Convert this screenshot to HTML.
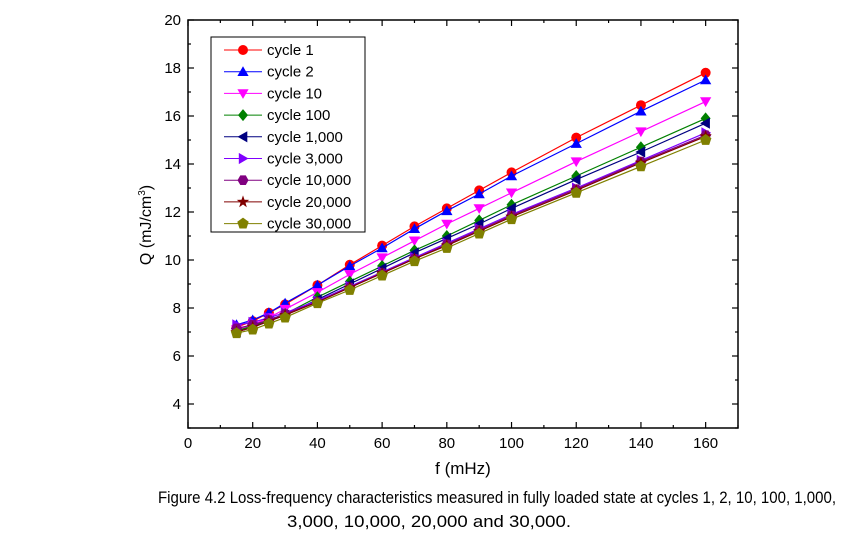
<!DOCTYPE html>
<html><head><meta charset="utf-8"><style>
body{margin:0;background:#fff;width:859px;height:550px;overflow:hidden}
svg{font-family:"Liberation Sans",Arial,sans-serif}
</style></head><body>
<svg id="c" width="859" height="550"></svg>
<script>
const xVals=[15,20,25,30,40,50,60,70,80,90,100,120,140,160];
const seriesNames=["cycle 1","cycle 2","cycle 10","cycle 100","cycle 1,000","cycle 3,000","cycle 10,000","cycle 20,000","cycle 30,000"];
const s1=[7.2,7.45,7.8,8.15,8.95,9.8,10.6,11.4,12.15,12.9,13.65,15.1,16.45,17.8];
const s2=[7.3,7.5,7.8,8.2,8.95,9.75,10.5,11.3,12.05,12.75,13.5,14.85,16.2,17.5];
const s10=[7.1,7.3,7.6,7.95,8.65,9.4,10.1,10.8,11.5,12.15,12.8,14.1,15.35,16.6];
const s100=[7.05,7.25,7.5,7.75,8.45,9.1,9.75,10.4,11.0,11.65,12.3,13.5,14.7,15.9];
const s1000=[7.0,7.2,7.45,7.7,8.35,9.0,9.65,10.3,10.9,11.5,12.15,13.35,14.5,15.7];
const s3000=[7.3,7.4,7.6,7.8,8.3,8.9,9.5,10.1,10.7,11.3,11.9,13.0,14.15,15.3];
const s10000=[7.15,7.3,7.5,7.75,8.25,8.85,9.45,10.05,10.65,11.25,11.85,12.95,14.1,15.2];
const s20000=[7.0,7.2,7.45,7.7,8.25,8.85,9.45,10.05,10.6,11.2,11.8,12.9,14.05,15.15];
const s30000=[6.95,7.1,7.35,7.6,8.2,8.75,9.35,9.95,10.5,11.1,11.7,12.8,13.9,15.0];
const xTicks=[0,20,40,60,80,100,120,140,160];
const yTicks=[4,6,8,10,12,14,16,18,20];

const allSeries=[s1,s2,s10,s100,s1000,s3000,s10000,s20000,s30000];
const colors=["#ff0000","#0000ff","#ff00ff","#008000","#000080","#8000ff","#800080","#800000","#808000"];
const shapes=["circle","up","down","diamond","left","right","hex","star","pent"];
const NS="http://www.w3.org/2000/svg";
const svg=document.getElementById('c');
const L=188,R=738,T=20,B=428,xmin=0,xmax=170,ymin=3,ymax=20;
const X=v=>L+(v-xmin)/(xmax-xmin)*(R-L);
const Y=v=>B-(v-ymin)/(ymax-ymin)*(B-T);
function mk(tag,attrs,parent){const e=document.createElementNS(NS,tag);for(const k in attrs)e.setAttribute(k,attrs[k]);(parent||svg).appendChild(e);return e;}
function poly(n,r,rot){const p=[];for(let i=0;i<n;i++){const a=rot+i*2*Math.PI/n;p.push([r*Math.cos(a),r*Math.sin(a)]);}return p;}
function marker(shape,cx,cy,col,g){
  let pts;const r=5.5;
  if(shape==="circle"){const c=mk('circle',{cx:cx,cy:cy,r:5,fill:col},g);return c;}
  if(shape==="up")pts=poly(3,6.5,-Math.PI/2).map(p=>[p[0],p[1]+1]);
  else if(shape==="down")pts=poly(3,6.5,Math.PI/2).map(p=>[p[0],p[1]-1]);
  else if(shape==="left")pts=poly(3,6.5,Math.PI).map(p=>[p[0]+1,p[1]]);
  else if(shape==="right")pts=poly(3,6.5,0).map(p=>[p[0]-1,p[1]]);
  else if(shape==="diamond")pts=[[0,-6],[5,0],[0,6],[-5,0]];
  else if(shape==="hex")pts=poly(6,r,0);
  else if(shape==="pent")pts=poly(5,6,-Math.PI/2);
  else if(shape==="star"){pts=[];for(let i=0;i<10;i++){const a=-Math.PI/2+i*Math.PI/5;const rr=i%2?2.6:6.5;pts.push([rr*Math.cos(a),rr*Math.sin(a)]);}}
  return mk('polygon',{points:pts.map(p=>(cx+p[0]).toFixed(1)+","+(cy+p[1]).toFixed(1)).join(" "),fill:col},g);
}
const frame=mk('rect',{x:L,y:T,width:R-L,height:B-T,fill:"none",stroke:"#000","stroke-width":1.5});

for(let v=0;v<=170;v+=10){
  const major=v%20===0,len=major?6:3,x=X(v);
  mk('line',{x1:x,y1:B,x2:x,y2:B-len,stroke:"#000","stroke-width":1.2});
  mk('line',{x1:x,y1:T,x2:x,y2:T+len,stroke:"#000","stroke-width":1.2});
}
for(let v=3;v<=20;v+=1){
  const major=v%2===0,len=major?6:3,y=Y(v);
  mk('line',{x1:L,y1:y,x2:L+len,y2:y,stroke:"#000","stroke-width":1.2});
  mk('line',{x1:R,y1:y,x2:R-len,y2:y,stroke:"#000","stroke-width":1.2});
}
xTicks.forEach(v=>{const t=mk('text',{x:X(v),y:B+20,"text-anchor":"middle","font-size":15});t.textContent=v;
});
yTicks.forEach(v=>{const t=mk('text',{x:L-7,y:Y(v)+5,"text-anchor":"end","font-size":15});t.textContent=v;
});
allSeries.forEach((s,i)=>{
  const g=mk('g',{});
  
  
  mk('polyline',{points:s.map((v,j)=>X(xVals[j])+","+Y(v)).join(" "),fill:"none",stroke:colors[i],"stroke-width":1.2},g);
  s.forEach((v,j)=>{const m=marker(shapes[i],X(xVals[j]),Y(v),colors[i],g);
    
    });
});
const lg=mk('g',{});


mk('rect',{x:211,y:37,width:154,height:195,fill:"#fff",stroke:"#000","stroke-width":1},lg);
seriesNames.forEach((n,i)=>{
  const y=50+i*21.7;
  const e=mk('g',{},lg);
  
  
  mk('line',{x1:224,y1:y,x2:262,y2:y,stroke:colors[i],"stroke-width":1},e);
  marker(shapes[i],243,y,colors[i],e);
  const t=mk('text',{x:267,y:y+5,"font-size":15},e);t.textContent=n;
});
</script>
<svg width="859" height="550" style="position:absolute;left:0;top:0">
<text x="151" y="225" transform="rotate(-90 151 225)" text-anchor="middle" font-size="16" font-family="Liberation Sans, sans-serif">Q (mJ/cm<tspan font-size="10" dy="-6">3</tspan><tspan dy="6">)</tspan></text>
<text x="463" y="474" text-anchor="middle" font-size="17" font-family="Liberation Sans, sans-serif">f (mHz)</text>
<text x="158" y="503" font-size="17" textLength="678" lengthAdjust="spacingAndGlyphs" font-family="Liberation Sans, sans-serif">Figure 4.2 Loss-frequency characteristics measured in fully loaded state at cycles 1, 2, 10, 100, 1,000,</text>
<text x="287" y="527" font-size="17" textLength="284" lengthAdjust="spacingAndGlyphs" font-family="Liberation Sans, sans-serif">3,000, 10,000, 20,000 and 30,000.</text>
</svg>
</body></html>
